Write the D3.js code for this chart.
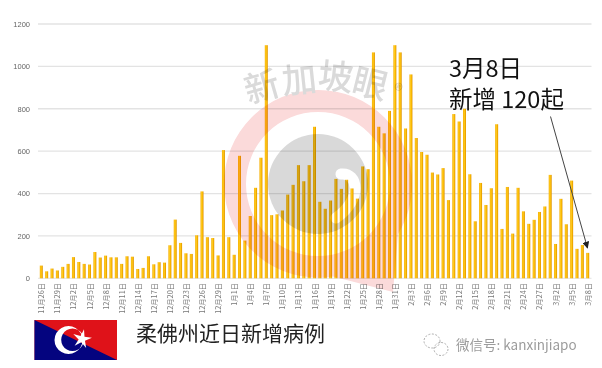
<!DOCTYPE html>
<html><head><meta charset="utf-8">
<style>html,body{margin:0;padding:0;background:#fff}svg{display:block}</style>
<script src="https://cdn.jsdelivr.net/npm/d3@7"></script></head><body>
<svg id="c" width="602" height="368"></svg>
<script>
const monthCounts = [["11月",26,30],["12月",1,31],["1月",1,31],["2月",1,28],["3月",1,8]];
const categories = monthCounts.flatMap(([m,a,b]) => d3.range(a,b+1).map(d => m+d+"日"));
const values = [60,33,46,37,54,68,100,77,68,65,124,98,107,99,99,68,104,102,44,49,104,66,76,74,156,277,167,118,115,203,
410,194,190,108,605,194,111,578,178,294,427,569,1100,298,302,320,395,441,534,458,534,715,361,328,367,469,422,465,424,376,528,515,
1066,715,684,790,1100,1066,707,962,662,596,583,499,490,520,369,775,740,800,491,269,450,346,425,727,233,431,211,427,316,257,276,313,339,488,162,375,255,461,139,157,120];
const yTicks = [0,200,400,600,800,1000,1200];
const titleText = "柔佛州近日新增病例";
const noteLines = ["3月8日","新增 120起"];
const brand = ["新","加","坡","眼","®"];
const wechat = "微信号: kanxinjiapo";

const cjk = "'Noto Sans CJK SC','Noto Sans',sans-serif";
const svg = d3.select("#c");
const defs = svg.append("defs");
const g = defs.append("linearGradient").attr("id","bar");
[[0,"#f6ae00"],[.4,"#ffcb1f"],[.7,"#f7b400"],[1,"#d98e00"]].forEach(([o,c])=>g.append("stop").attr("offset",o).attr("stop-color",c));
const mk = defs.append("marker").attr("id","ah").attr("viewBox","0 0 10 10").attr("refX",9).attr("refY",5)
  .attr("markerWidth",7).attr("markerHeight",7).attr("markerUnits","userSpaceOnUse").attr("orient","auto");
mk.append("path").attr("d","M0,0L10,5L0,10Z").attr("fill","#222");

const x = d3.scalePoint().domain(categories).range([41.3,587.7]);
const y = d3.scaleLinear().domain([0,1200]).range([278.3,24]);

// grid
svg.append("g").selectAll("line").data(yTicks).join("line")
  .attr("x1",38).attr("x2",591.5).attr("y1",d=>y(d)).attr("y2",d=>y(d))
  .attr("stroke",d=>d?"#e3e3e3":"#e8e8e8").attr("stroke-width",1.3);

// y axis
const ya = svg.append("g").attr("transform","translate(33,0)")
  .call(d3.axisLeft(y).tickValues(yTicks).tickFormat(d3.format("d")).tickSize(0).tickPadding(3));
ya.select(".domain").remove();
ya.selectAll("text").attr("font-family","'Liberation Sans',sans-serif").attr("font-size",7.5).attr("fill","#666");

// x labels
const xa = svg.append("g").attr("transform","translate(0,282)")
  .call(d3.axisBottom(x).tickValues(categories.filter((d,i)=>i%3===0)).tickSize(0));
xa.select(".domain").remove();
xa.selectAll("text").attr("font-family",cjk).attr("font-size",7.3).attr("fill","#777")
  .attr("text-anchor","end").attr("dy",0).attr("y",0).attr("x",0)
  .attr("transform","translate(2.5,1) rotate(-90)");

// bars
svg.append("g").selectAll("rect").data(values).join("rect")
  .attr("x",(d,i)=>x(categories[i])-1.5).attr("width",3)
  .attr("y",d=>y(d)).attr("height",d=>y(0)-y(d)).attr("fill","url(#bar)");

// watermark
const wm = svg.append("g").style("mix-blend-mode","multiply");
const cx=318, cy=184;
wm.append("path").attr("fill","#fbdada").attr("fill-rule","evenodd")
  .attr("d",`M${cx-94},${cy}A94,94 0 1,1 ${cx+94},${cy}A94,94 0 0,1 ${cx+80},${cy+50}L${cx+75},${cy+108}L${cx+15},${cy+92.5}A94,94 0 0,1 ${cx-94},${cy}Z
  M${cx-72},${cy}A72,72 0 1,0 ${cx+72},${cy}A72,72 0 1,0 ${cx-72},${cy}Z`);
wm.append("circle").attr("cx",cx).attr("cy",cy).attr("r",50).attr("fill","#d9d9d9");
wm.append("path").attr("fill","none").attr("stroke","#fff").attr("stroke-width",11).attr("stroke-linecap","round")
  .attr("d",`M${cx+23},${cy-10}C${cx+40},${cy-12} ${cx+45},${cy+15} ${cx+18},${cy+34}`);
const brandPos = [[261,84,-16,35],[299,77,-6,35],[336,74,6,35],[371,81,14,35],[398,89,18,18]];
wm.selectAll("text").data(brand).join("text")
  .attr("font-family",cjk).attr("font-size",(d,i)=>brandPos[i][3]).attr("fill","#dadada").attr("font-weight",500)
  .attr("text-anchor","middle").attr("dominant-baseline","central")
  .attr("transform",(d,i)=>`translate(${brandPos[i][0]},${brandPos[i][1]}) rotate(${brandPos[i][2]})`)
  .text(d=>d);

// annotation
const note = svg.append("g").attr("font-family",cjk).attr("font-size",23.5).attr("fill","#111");
note.selectAll("text").data(noteLines).join("text").attr("x",449).attr("y",(d,i)=>77+i*31).text(d=>d);
svg.append("line").attr("x1",550.5).attr("y1",116.5).attr("x2",587.5).attr("y2",248)
  .attr("stroke","#444").attr("stroke-width",1).attr("marker-end","url(#ah)");

// flag
const fx=34.5, fy=320, fw=82.5, fh=40;
const flag = svg.append("g");
flag.append("rect").attr("x",fx).attr("y",fy).attr("width",fw).attr("height",fh).attr("fill","#df1219");
flag.append("path").attr("d",`M${fx},${fy}L${fx+fw},${fy+fh}L${fx},${fy+fh}Z`).attr("fill","#04047f");
flag.append("path").attr("fill","#fff").attr("fill-rule","evenodd")
  .attr("d","M68.5,326a14,14 0 1,0 0.01,0Z M72.5,328.5a11.3,11.3 0 1,1 -0.01,0Z");
const star = d3.range(10).map(i=>{const r=i%2?3.4:10,a=i*Math.PI/5+0.2;return [82,339].map((c,k)=>k?c-r*Math.cos(a):c+r*Math.sin(a));});
flag.append("path").attr("d","M"+star.join("L")+"Z").attr("fill","#fff");

// title
svg.append("text").attr("x",136).attr("y",341).attr("font-family",cjk).attr("font-size",21).attr("fill","#222").text(titleText);

// wechat
const w = svg.append("g").attr("fill","none").attr("stroke","#999").attr("stroke-width",.8).attr("stroke-dasharray","2 1.5");
w.append("ellipse").attr("cx",432).attr("cy",341).attr("rx",8).attr("ry",7);
w.append("ellipse").attr("cx",441).attr("cy",349).attr("rx",7).attr("ry",6.5);
svg.append("text").attr("x",456).attr("y",350).attr("font-family",cjk).attr("font-size",13.5)
  .attr("fill","#9c9c9c").text(wechat);
</script></body></html>
